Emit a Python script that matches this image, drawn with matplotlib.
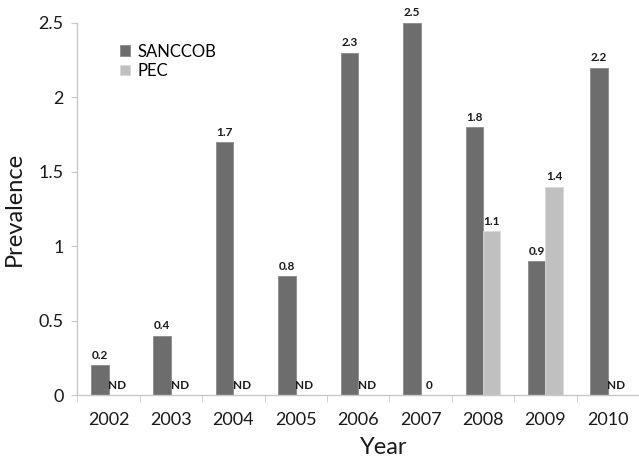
import numpy as np
import matplotlib
matplotlib.use('Agg')
import matplotlib.pyplot as plt

plt.rcParams['font.family'] = ['Lato', 'DejaVu Sans']

years = ['2002', '2003', '2004', '2005', '2006', '2007', '2008', '2009', '2010']
sanccob = [0.2, 0.4, 1.7, 0.8, 2.3, 2.5, 1.8, 0.9, 2.2]
pec = [None, None, None, None, None, 0, 1.1, 1.4, None]   # None = ND

dark = '#6d6d6d'
light = '#c0c0c0'
axis_col = '#c8c8c8'
txt = '#1a1a1a'

fig = plt.figure(figsize=(6.39, 4.59), dpi=100)
ax = fig.add_axes([0.121, 0.139, 0.879, 0.811])

x = np.arange(len(years))
w = 0.28
ax.bar(x - w / 2, sanccob, w, color=dark, edgecolor='#8a8a8a', linewidth=0.6, label='SANCCOB')
pec_vals = [v if v is not None else 0 for v in pec]
ax.bar(x + w / 2, pec_vals, w, color=light, edgecolor='#d8d8d8', linewidth=0.6, label='PEC')

for i, v in enumerate(sanccob):
    ax.text(x[i] - w / 2, v + 0.03, f'{v:g}', ha='center', va='bottom',
            fontsize=8.5, fontweight='bold', color=txt)
for i, v in enumerate(pec):
    lab = 'ND' if v is None else f'{v:g}'
    yy = 0 if v is None else v
    ax.text(x[i] + w / 2, yy + 0.03, lab, ha='center', va='bottom',
            fontsize=8.5, fontweight='bold', color=txt)

ax.set_xlim(-0.5, len(years) - 0.5)
ax.set_ylim(0, 2.5)
ax.set_yticks([0, 0.5, 1, 1.5, 2, 2.5])
ax.set_yticklabels(['0', '0.5', '1', '1.5', '2', '2.5'])
ax.set_xticks(x)
ax.set_xticklabels(years)
ax.set_xticks(np.arange(-0.5, len(years)), minor=True)

for s in ['top', 'right']:
    ax.spines[s].set_visible(False)
for s in ['left', 'bottom']:
    ax.spines[s].set_color(axis_col)
    ax.spines[s].set_linewidth(1.0)

ax.tick_params(axis='x', which='major', length=0, labelsize=13, pad=12, colors=txt)
ax.tick_params(axis='x', which='minor', length=5, color=axis_col)
ax.tick_params(axis='y', length=4, color=axis_col, labelsize=13, pad=6, labelcolor=txt)

ax.set_ylabel('Prevalence', fontsize=17, labelpad=10, color=txt)
ax.set_xlabel('Year', fontsize=17, color=txt)
ax.xaxis.set_label_coords((383 - 77) / (639 * 0.879), -0.112)

ax.legend(loc='upper left', bbox_to_anchor=(0.05, 0.985), frameon=False, fontsize=12,
          handlelength=0.6, handleheight=0.6, handletextpad=0.4, labelspacing=0.2)

fig.savefig('out.png', dpi=100)
